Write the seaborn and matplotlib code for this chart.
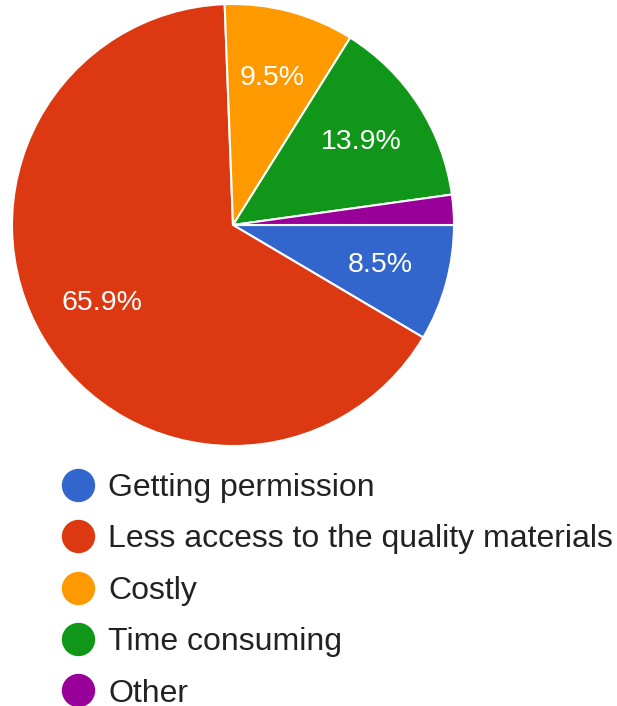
import matplotlib
matplotlib.use('Agg')
import matplotlib.pyplot as plt
from matplotlib.lines import Line2D
import seaborn as sns

labels = ['Getting permission', 'Less access to the quality materials', 'Costly',
          'Time consuming', 'Other']
values = [8.5, 65.9, 9.5, 13.9, 2.2]
colors = ['#3366CC', '#DC3912', '#FF9900', '#109618', '#990099']

sns.set_style('white')
plt.rcParams['font.family'] = ['Liberation Sans', 'DejaVu Sans']

W, H = 617, 706
fig = plt.figure(figsize=(W / 100, H / 100), dpi=100)

# pie box in pixels: centre (233, 225), radius 221
cx, cy, r = 233, 225, 221
ax = fig.add_axes([(cx - r) / W, 1 - (cy + r) / H, 2 * r / W, 2 * r / H])

def pct(p):
    return f'{p:.1f}%' if p > 5 else ''

wedges, texts, autotexts = ax.pie(values, colors=colors, startangle=0, counterclock=False,
                                  autopct=pct, pctdistance=0.69, radius=1,
                                  wedgeprops=dict(edgecolor='white', linewidth=1.5))
for t in autotexts:
    t.set_color('white')
    t.set_fontsize(20.5)
ax.set_xlim(-1, 1)
ax.set_ylim(-1, 1)
ax.set_aspect('equal')
ax.axis('off')

handles = [Line2D([0], [0], marker='o', linestyle='', markersize=23,
                  markerfacecolor=c, markeredgecolor=c) for c in colors]
fig.legend(handles, labels, loc='upper left', bbox_to_anchor=(62 / W, 1 - 473 / H),
           frameon=False, fontsize=23, handlelength=1.0, handletextpad=0.45,
           labelspacing=0.67, borderpad=0, borderaxespad=0, labelcolor='#222222')

plt.savefig('out.png', dpi=100)
